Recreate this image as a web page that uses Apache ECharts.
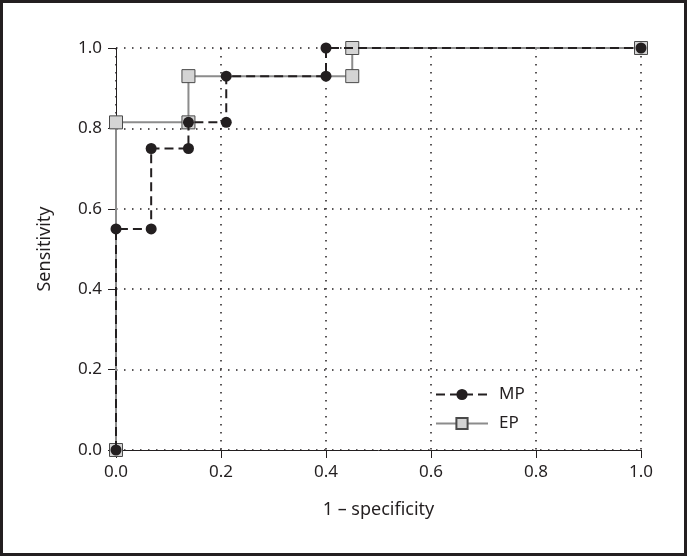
<!DOCTYPE html>
<html>
<head>
<meta charset="utf-8">
<script src="https://cdn.jsdelivr.net/npm/echarts@6/dist/echarts.min.js"></script>
<style>
  html, body { margin: 0; padding: 0; background: #fff; }
  #frame { width: 687px; height: 556px; box-sizing: border-box; border: 3px solid #231f20; }
  #chart { width: 681px; height: 550px; }
</style>
</head>
<body>
<div id="frame"><div id="chart"></div></div>
<script>
// ROC step curves
const mpX = [0, 0, 0.067, 0.067, 0.138, 0.138, 0.21, 0.21, 0.4, 0.4, 1.0]
const mpY = [0, 0.55, 0.55, 0.75, 0.75, 0.815, 0.815, 0.93, 0.93, 1.0, 1.0]
const epX = [0, 0, 0.138, 0.138, 0.45, 0.45, 1.0]
const epY = [0, 0.815, 0.815, 0.93, 0.93, 1.0, 1.0]

const font = 'Noto Sans'
const ink = '#231f20'

const chart = echarts.init(document.getElementById('chart'))

const axisCommon = {
  type: 'value',
  min: 0,
  max: 1,
  interval: 0.2,
  axisLine: { show: true, lineStyle: { color: ink, width: 1 } },
  axisTick: { show: true, length: 8, lineStyle: { color: ink, width: 1 } },
  splitLine: { show: true, lineStyle: { color: ink, width: 1.5, type: [1.5, 6.5] } },
  axisLabel: {
    color: ink,
    fontFamily: font,
    fontSize: 17,
    formatter: v => v.toFixed(1)
  },
  nameTextStyle: { color: ink, fontFamily: font, fontSize: 18 }
}

const option = {
  animation: false,
  grid: { left: 113, right: 43, top: 45, bottom: 103 },
  legend: {
    orient: 'vertical',
    left: 427,
    top: 378,
    itemWidth: 52,
    itemHeight: 14,
    itemGap: 12,
    data: ['MP', 'EP'],
    textStyle: { color: ink, fontFamily: font, fontSize: 17, padding: [0, 0, 0, 6] }
  },
  xAxis: {
    ...axisCommon,
    name: '1 – specificity',
    nameLocation: 'middle',
    nameGap: 51,
    axisLabel: { ...axisCommon.axisLabel, margin: 14 }
  },
  yAxis: {
    ...axisCommon,
    name: 'Sensitivity',
    nameLocation: 'middle',
    nameGap: 62,
    axisLabel: { ...axisCommon.axisLabel, margin: 14 }
  },
  series: [
    {
      name: 'EP',
      type: 'line',
      z: 2,
      data: epX.map((x, i) => [x, epY[i]]),
      symbol: 'rect',
      symbolSize: 13,
      lineStyle: { color: '#8c8c8c', width: 2 },
      itemStyle: { color: '#d4d4d4', borderColor: '#4a4a4a', borderWidth: 1 }
    },
    {
      name: 'MP',
      type: 'line',
      z: 3,
      data: mpX.map((x, i) => [x, mpY[i]]),
      symbol: 'circle',
      symbolSize: 11,
      lineStyle: { color: ink, width: 2, type: [9, 5] },
      itemStyle: { color: ink, borderColor: ink, borderWidth: 0 }
    }
  ]
}

chart.setOption(option)
</script>
</body>
</html>
